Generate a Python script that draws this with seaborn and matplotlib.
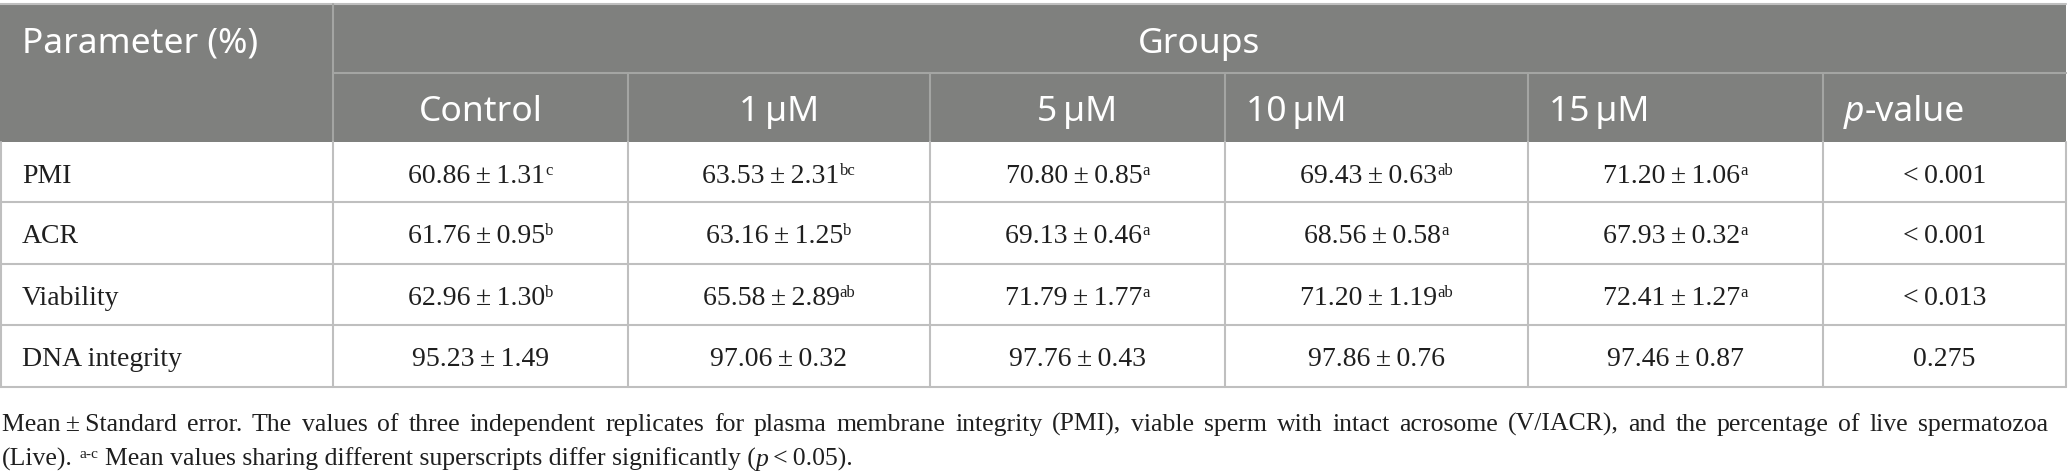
import matplotlib
matplotlib.use("Agg")
import matplotlib.pyplot as plt
from matplotlib.patches import Rectangle
import seaborn as sns

sns.set_theme(style="white")
plt.rcParams['font.family'] = ['Liberation Serif', 'DejaVu Serif']

# ---------------- data ----------------
parameters = ["PMI", "ACR", "Viability", "DNA integrity"]
group_labels = ["Control", "1\u2009\u00b5M", "5\u2009\u00b5M", "10\u2009\u00b5M", "15\u2009\u00b5M"]

pmi_mean = [60.86, 63.53, 70.80, 69.43, 71.20]
pmi_se = [1.31, 2.31, 0.85, 0.63, 1.06]
pmi_sup = ["c", "bc", "a", "ab", "a"]

acr_mean = [61.76, 63.16, 69.13, 68.56, 67.93]
acr_se = [0.95, 1.25, 0.46, 0.58, 0.32]
acr_sup = ["b", "b", "a", "a", "a"]

via_mean = [62.96, 65.58, 71.79, 71.20, 72.41]
via_se = [1.30, 2.89, 1.77, 1.19, 1.27]
via_sup = ["b", "ab", "a", "ab", "a"]

dna_mean = [95.23, 97.06, 97.76, 97.86, 97.46]
dna_se = [1.49, 0.32, 0.43, 0.76, 0.87]
dna_sup = ["", "", "", "", ""]

p_values = ["<\u20090.001", "<\u20090.001", "<\u20090.013", "0.275"]

footnote_1 = ("Mean\u2009\u00b1\u2009Standard error. The values of three independent replicates for plasma "
              "membrane integrity (PMI), viable sperm with intact acrosome (V/IACR), and the percentage of live spermatozoa")
footnote_2a = "(Live)."
footnote_2sup = "a-c"
footnote_2b = "Mean values sharing different superscripts differ significantly ("
footnote_2c = "\u2009<\u20090.05)."

# ---------------- layout ----------------
W, H = 2068, 476
col_edges = [0, 333, 628, 930, 1225, 1528, 1823, 2066]
row_edges = [4, 73, 142, 202, 264, 325, 387]
header_align = ["center", "center", "center", "left", "left", "left"]

HEADER_BG = "#7f807e"
HEADER_LINE = "#a4a5a3"
BODY_LINE = "#bfbfbf"
TEXT = "#1f1f1f"

HFONT = dict(family=['Noto Sans', 'DejaVu Sans'], fontsize=25.5, color="white", fontweight="light")
BFONT = dict(family=['Liberation Serif', 'DejaVu Serif'], fontsize=20, color=TEXT)
SFONT = dict(BFONT, fontsize=12)

fig = plt.figure(figsize=(W / 100, H / 100), dpi=100)
ax = fig.add_axes([0, 0, 1, 1])
ax.set_xlim(0, W)
ax.set_ylim(H, 0)
ax.axis("off")
renderer = fig.canvas.get_renderer()


def adv(s, **kw):
    a = ax.text(0, 0, "x" + s + "x", **kw)
    b = ax.text(0, 0, "xx", **kw)
    w = a.get_window_extent(renderer).width - b.get_window_extent(renderer).width
    a.remove()
    b.remove()
    return w


def draw_runs(x, y, runs, ha="left"):
    widths = [adv(s, **kw) for s, kw, dy in runs]
    if ha == "center":
        x -= sum(widths) / 2
    for (s, kw, dy), w in zip(runs, widths):
        if s.strip():
            ax.text(x, y - dy, s, ha="left", va="baseline", **kw)
        x += w


# header background
ax.add_patch(Rectangle((col_edges[0], row_edges[0]), col_edges[-1] - col_edges[0],
                       row_edges[2] - row_edges[0], facecolor=HEADER_BG, edgecolor="none", zorder=0))

# lines: top border
ax.plot([col_edges[0], col_edges[-1]], [row_edges[0], row_edges[0]], color=BODY_LINE, lw=1.5, zorder=1)
# header lines
ax.plot([col_edges[1], col_edges[-1]], [row_edges[1], row_edges[1]], color=HEADER_LINE, lw=1.5, zorder=1)
ax.plot([col_edges[1], col_edges[1]], [row_edges[0], row_edges[2]], color=HEADER_LINE, lw=1.5, zorder=1)
for xe in col_edges[2:-1]:
    ax.plot([xe, xe], [row_edges[1], row_edges[2]], color=HEADER_LINE, lw=1.5, zorder=1)
# body lines
for ye in row_edges[3:]:
    ax.plot([col_edges[0], col_edges[-1]], [ye, ye], color=BODY_LINE, lw=1.5, zorder=1)
for xe in [col_edges[0] + 1] + col_edges[1:-1] + [col_edges[-1]]:
    ax.plot([xe, xe], [row_edges[2], row_edges[-1]], color=BODY_LINE, lw=1.5, zorder=1)

# header text
draw_runs(22, 53, [("Parameter (%)", HFONT, 0)])
draw_runs((col_edges[1] + col_edges[-1]) / 2, 53, [("Groups", HFONT, 0)], ha="center")
labels2 = group_labels + ["p-value"]
for j, (lab, al) in enumerate(zip(labels2, header_align)):
    x0, x1 = col_edges[j + 1], col_edges[j + 2]
    if lab == "p-value":
        runs = [("p", dict(HFONT, style="italic"), 0), ("-value", HFONT, 0)]
    else:
        runs = [(lab, HFONT, 0)]
    if al == "center":
        draw_runs((x0 + x1) / 2, 121, runs, ha="center")
    else:
        draw_runs(x0 + 21, 121, runs)

# body
rows = [(pmi_mean, pmi_se, pmi_sup), (acr_mean, acr_se, acr_sup),
        (via_mean, via_se, via_sup), (dna_mean, dna_se, dna_sup)]
for i, (param, (m, s, sup), pv) in enumerate(zip(parameters, rows, p_values)):
    base = row_edges[i + 2] + 41
    draw_runs(22, base, [(param, BFONT, 0)])
    for j in range(len(m)):
        x0, x1 = col_edges[j + 1], col_edges[j + 2]
        runs = [(f"{m[j]:.2f}\u2009\u00b1\u2009{s[j]:.2f}", BFONT, 0)]
        if sup[j]:
            runs.append((sup[j], SFONT, 8))
        draw_runs((x0 + x1) / 2, base, runs, ha="center")
    draw_runs((col_edges[-2] + col_edges[-1]) / 2, base, [(pv, BFONT, 0)], ha="center")

# footnote: size from the second line, first line justified to the table width
test_fs = 20
T = dict(BFONT, fontsize=test_fs)
TS = dict(BFONT, fontsize=test_fs * 0.6)
line2_test = [(footnote_2a, T, 0), (" ", T, 0), (footnote_2sup, TS, 0), (" ", T, 0),
              (footnote_2b, T, 0), ("p", dict(T, style="italic"), 0), (footnote_2c, T, 0)]
w2 = sum(adv(s, **kw) for s, kw, dy in line2_test)
fs = test_fs * 854 / w2
FFONT = dict(BFONT, fontsize=fs)
FSUP = dict(BFONT, fontsize=fs * 0.6)

words = footnote_1.split(" ")
wws = [adv(w, **FFONT) for w in words]
gap = (2046 - sum(wws)) / (len(words) - 1)
x = 2
for w, ww in zip(words, wws):
    ax.text(x, 431, w, ha="left", va="baseline", **FFONT)
    x += ww + gap

draw_runs(2, 466, [(footnote_2a, FFONT, 0), (" ", FFONT, 0), (footnote_2sup, FSUP, 8),
                   (" ", FFONT, 0), (footnote_2b, FFONT, 0),
                   ("p", dict(FFONT, style="italic"), 0), (footnote_2c, FFONT, 0)])

fig.savefig("out.png", dpi=100)
